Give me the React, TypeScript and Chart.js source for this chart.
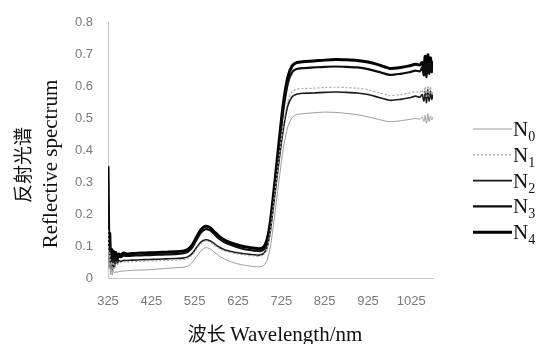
import React, { useEffect, useRef } from "react";
import { Chart, registerables } from "chart.js";

Chart.register(...registerables);

// ---- data ----
const wavelengths = [
  325, 327, 329, 331, 333, 335, 337, 340, 343, 346, 350, 355, 360, 370, 380, 400,
  420, 440, 460, 480, 500, 510, 520, 530, 540, 550, 560, 570, 580, 590, 600, 620,
  640, 660, 675, 685, 692, 700, 710, 720, 730, 740, 750, 760, 775, 800, 825, 850,
  875, 900, 925, 950, 975, 1000, 1020, 1035, 1045, 1050, 1054, 1057, 1060, 1063,
  1066, 1069, 1072, 1075,
];

const n0 = [
  0.1, 0.03, 0.05, 0.01, 0.03, 0.01, 0.025, 0.015, 0.02, 0.018, 0.02, 0.021, 0.022, 0.023, 0.024, 0.025,
  0.026, 0.028, 0.03, 0.032, 0.034, 0.038, 0.05, 0.068, 0.086, 0.095, 0.092, 0.082, 0.07, 0.062, 0.055, 0.046,
  0.04, 0.036, 0.035, 0.04, 0.055, 0.1, 0.2, 0.31, 0.41, 0.475, 0.503, 0.512, 0.515, 0.518, 0.52, 0.519,
  0.516, 0.512, 0.505, 0.497, 0.49, 0.493, 0.497, 0.5, 0.498, 0.505, 0.49, 0.51, 0.485, 0.515,
  0.49, 0.508, 0.495, 0.505,
];

const n1 = [
  0.15, 0.05, 0.08, 0.03, 0.05, 0.02, 0.05, 0.03, 0.05, 0.04, 0.05, 0.048, 0.05, 0.05, 0.051, 0.052,
  0.053, 0.054, 0.055, 0.056, 0.058, 0.062, 0.073, 0.092, 0.108, 0.116, 0.113, 0.104, 0.094, 0.087, 0.082, 0.076,
  0.072, 0.069, 0.068, 0.075, 0.092, 0.15, 0.265, 0.38, 0.485, 0.555, 0.584, 0.592, 0.594, 0.595, 0.597, 0.598,
  0.597, 0.595, 0.59, 0.581, 0.572, 0.575, 0.58, 0.584, 0.582, 0.59, 0.57, 0.6, 0.565, 0.603,
  0.57, 0.6, 0.575, 0.59,
];

const n2 = [
  0.2, 0.06, 0.09, 0.03, 0.06, 0.025, 0.06, 0.035, 0.055, 0.045, 0.055, 0.052, 0.055, 0.055, 0.056, 0.057,
  0.058, 0.059, 0.06, 0.061, 0.063, 0.067, 0.078, 0.097, 0.113, 0.12, 0.117, 0.108, 0.098, 0.091, 0.086, 0.08,
  0.076, 0.073, 0.072, 0.078, 0.095, 0.15, 0.26, 0.37, 0.47, 0.54, 0.568, 0.576, 0.579, 0.58, 0.582, 0.583,
  0.582, 0.58, 0.575, 0.566, 0.557, 0.56, 0.565, 0.57, 0.567, 0.575, 0.555, 0.585, 0.55, 0.59,
  0.555, 0.585, 0.56, 0.575,
];

const n3 = [
  0.3, 0.08, 0.12, 0.04, 0.08, 0.03, 0.075, 0.045, 0.07, 0.055, 0.068, 0.065, 0.07, 0.069, 0.07, 0.071,
  0.072, 0.073, 0.074, 0.075, 0.078, 0.083, 0.097, 0.122, 0.143, 0.153, 0.15, 0.138, 0.125, 0.115, 0.108, 0.098,
  0.09, 0.086, 0.084, 0.09, 0.11, 0.17, 0.29, 0.415, 0.53, 0.61, 0.645, 0.655, 0.658, 0.66, 0.662, 0.663,
  0.662, 0.66, 0.655, 0.646, 0.637, 0.64, 0.645, 0.65, 0.648, 0.66, 0.635, 0.67, 0.63, 0.675,
  0.64, 0.672, 0.645, 0.66,
];

const n4 = [
  0.35, 0.1, 0.14, 0.05, 0.09, 0.04, 0.085, 0.05, 0.08, 0.06, 0.075, 0.07, 0.078, 0.075, 0.077, 0.078,
  0.079, 0.08, 0.081, 0.082, 0.085, 0.09, 0.105, 0.13, 0.152, 0.162, 0.158, 0.145, 0.132, 0.122, 0.115, 0.105,
  0.098, 0.094, 0.092, 0.098, 0.12, 0.18, 0.3, 0.43, 0.55, 0.63, 0.665, 0.675, 0.678, 0.68, 0.683, 0.685,
  0.684, 0.682, 0.677, 0.668, 0.657, 0.66, 0.665, 0.67, 0.668, 0.675, 0.655, 0.695, 0.645, 0.7,
  0.65, 0.69, 0.66, 0.68,
];

const seriesNames = ["N0", "N1", "N2", "N3", "N4"];
const seriesSubscripts = ["0", "1", "2", "3", "4"];
const seriesValues = [n0, n1, n2, n3, n4];
const seriesColors = ["#9a9a9a", "#a8a8a8", "#1a1a1a", "#0d0d0d", "#000000"];
const seriesWidths = [1, 1.2, 1.6, 2.2, 3];
const seriesDashes = [[], [2, 2], [], [], []];

const xTickValues = [325, 425, 525, 625, 725, 825, 925, 1025];
const xMin = 325;
const xMax = 1075;
const yMin = 0;
const yMax = 0.8;
const yStep = 0.1;

const yTitleCn = "反射光谱";
const yTitleEn = "Reflective spectrum";
const xTitleCn = "波长 ";
const xTitleEn = "Wavelength/nm";

const W = 546;
const H = 344;

const textPlugin = {
  id: "customText",
  afterDraw(chart: any) {
    const ctx: CanvasRenderingContext2D = chart.ctx;
    // Y title
    ctx.save();
    ctx.fillStyle = "#111";
    ctx.textAlign = "center";
    ctx.textBaseline = "middle";
    ctx.translate(23, 165);
    ctx.rotate(-Math.PI / 2);
    ctx.font = '19px "Noto Sans CJK SC"';
    ctx.fillText(yTitleCn, 0, 0);
    ctx.restore();

    ctx.save();
    ctx.fillStyle = "#111";
    ctx.textAlign = "center";
    ctx.textBaseline = "alphabetic";
    ctx.translate(57, 164);
    ctx.rotate(-Math.PI / 2);
    ctx.font = '21px "Liberation Serif"';
    ctx.fillText(yTitleEn, 0, 0);
    ctx.restore();

    // X title
    ctx.save();
    ctx.fillStyle = "#111";
    ctx.textBaseline = "alphabetic";
    ctx.textAlign = "left";
    const cnFont = '19px "Noto Sans CJK SC"';
    const enFont = '21px "Liberation Serif"';
    ctx.font = cnFont;
    const wCn = ctx.measureText(xTitleCn).width;
    ctx.font = enFont;
    const wEn = ctx.measureText(xTitleEn).width;
    const startX = 275 - (wCn + wEn) / 2;
    ctx.font = cnFont;
    ctx.fillText(xTitleCn, startX, 341);
    ctx.font = enFont;
    ctx.fillText(xTitleEn, startX + wCn, 341);
    ctx.restore();

    // Legend
    const rowY0 = 129;
    const rowGap = 25.8;
    seriesNames.forEach((name, i) => {
      const ds = chart.data.datasets[i];
      const y = rowY0 + i * rowGap;
      ctx.save();
      ctx.strokeStyle = ds.borderColor;
      ctx.lineWidth = ds.borderWidth;
      ctx.setLineDash(ds.borderDash || []);
      ctx.beginPath();
      ctx.moveTo(473, y);
      ctx.lineTo(512, y);
      ctx.stroke();
      ctx.setLineDash([]);
      ctx.fillStyle = "#111";
      ctx.textAlign = "left";
      ctx.textBaseline = "alphabetic";
      ctx.font = '21px "Liberation Serif"';
      ctx.fillText("N", 513, y + 7);
      const wN = ctx.measureText("N").width;
      ctx.font = '14px "Liberation Serif"';
      ctx.fillText(seriesSubscripts[i], 513 + wN, y + 12);
      ctx.restore();
    });
  },
};

export default function App() {
  const ref = useRef<HTMLCanvasElement | null>(null);

  useEffect(() => {
    if (!ref.current) return;
    const datasets = seriesValues.map((vals, i) => ({
      label: seriesNames[i],
      data: wavelengths.map((w, j) => ({ x: w, y: vals[j] })),
      borderColor: seriesColors[i],
      backgroundColor: seriesColors[i],
      borderWidth: seriesWidths[i],
      borderDash: seriesDashes[i],
      pointRadius: 0,
      tension: 0.25,
      fill: false,
    }));

    const chart = new Chart(ref.current, {
      type: "line",
      data: { datasets },
      options: {
        responsive: false,
        animation: false,
        events: [],
        layout: { padding: { left: 0, top: 17, right: W - 433, bottom: 0 } },
        plugins: { legend: { display: false }, tooltip: { enabled: false } },
        scales: {
          x: {
            type: "linear",
            min: xMin,
            max: xMax,
            afterBuildTicks: (scale: any) => {
              scale.ticks = xTickValues.map((v) => ({ value: v }));
            },
            afterFit: (scale: any) => {
              scale.height = H - 278;
            },
            grid: { display: false, drawTicks: false },
            border: { display: true, color: "#c8c8c8", width: 1 },
            ticks: {
              autoSkip: false,
              maxRotation: 0,
              padding: 16,
              color: "#7a7a7a",
              font: { family: "Liberation Sans", size: 13 },
              callback: (v: any) => String(v),
            },
          },
          y: {
            type: "linear",
            min: yMin,
            max: yMax,
            afterFit: (scale: any) => {
              scale.width = 108;
            },
            grid: { display: false, drawTicks: false },
            border: { display: true, color: "#c8c8c8", width: 1 },
            ticks: {
              stepSize: yStep,
              padding: 15,
              color: "#7a7a7a",
              font: { family: "Liberation Sans", size: 13 },
              callback: (v: any) => (Math.abs(v) < 1e-9 ? "0" : Number(v).toFixed(1)),
            },
          },
        },
      },
      plugins: [textPlugin],
    });
    return () => chart.destroy();
  }, []);

  return (
    <div style={{ position: "fixed", left: 0, top: 0, width: W, height: H, background: "#fff" }}>
      <canvas ref={ref} width={W} height={H} style={{ display: "block" }} />
    </div>
  );
}
